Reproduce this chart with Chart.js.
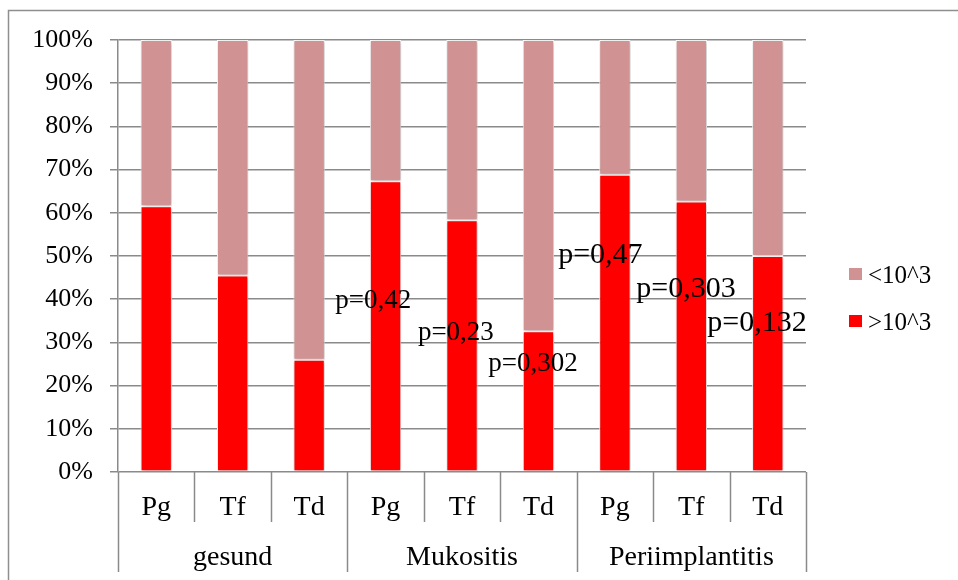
<!DOCTYPE html>
<html>
<head>
<meta charset="utf-8">
<script src="https://cdn.jsdelivr.net/npm/chart.js@4"></script>
<style>
  html, body { margin: 0; padding: 0; background: #fff; }
  #wrap { width: 958px; height: 580px; position: relative; }
</style>
</head>
<body>
<div id="wrap"><canvas id="c" width="958" height="580"></canvas></div>
<script>
// Bacteria and groups
const species = ['Pg', 'Tf', 'Td', 'Pg', 'Tf', 'Td', 'Pg', 'Tf', 'Td'];
const groups = ['gesund', 'Mukositis', 'Periimplantitis'];
const groupSize = 3;

// Share of samples per load class (%)
const overThousand = [61.5, 45.5, 26, 67.3, 58.3, 32.6, 68.8, 62.6, 50];
const underThousand = [38.5, 54.5, 74, 32.7, 41.7, 67.4, 31.2, 37.4, 50];

// p values of the group comparisons
const pTexts = ['p=0,42', 'p=0,23', 'p=0,302', 'p=0,47', 'p=0,303', 'p=0,132'];
// where each p value sits: category position and baseline height (%)
const pAt = [2.84, 3.92, 4.93, 5.81, 6.93, 7.86];
const pBase = [38, 30.6, 23.4, 48.4, 40.5, 32.6];
const pSize = [27, 27, 27, 30, 30, 30];

const yTicks = [0, 10, 20, 30, 40, 50, 60, 70, 80, 90, 100];

const SERIF = '"Liberation Serif", "Times New Roman", serif';
const GRID = '#8a8a8a';
const PINK = '#d09292';
const RED = '#ff0000';

// frame, two-level category axis, p values and legend
const decor = {
  id: 'decor',
  beforeDraw(chart) {
    const ctx = chart.ctx;
    ctx.save();
    ctx.strokeStyle = '#8f8f8f';
    ctx.lineWidth = 1.5;
    ctx.beginPath();
    ctx.moveTo(8.5, 600);
    ctx.lineTo(8.5, 10.5);
    ctx.lineTo(1000, 10.5);
    ctx.stroke();
    ctx.restore();
  },
  beforeDatasetsDraw(chart) {
    chart.ctx.save();
    chart.ctx.shadowColor = 'rgba(0,0,0,0.28)';
    chart.ctx.shadowBlur = 4;
    chart.ctx.shadowOffsetX = 1;
    chart.ctx.shadowOffsetY = 1;
  },
  afterDatasetsDraw(chart) {
    chart.ctx.restore();
    const ctx = chart.ctx;
    const x = chart.scales.x, y = chart.scales.y;
    const area = chart.chartArea;
    const step = (area.right - area.left) / species.length;
    ctx.save();
    // category separators
    ctx.strokeStyle = GRID;
    ctx.lineWidth = 1.5;
    for (let k = 0; k <= species.length; k++) {
      const px = Math.round(area.left + step * k) + 0.5;
      const long = k % groupSize === 0;
      ctx.beginPath();
      ctx.moveTo(px, area.bottom);
      ctx.lineTo(px, area.bottom + (long ? 100 : 50));
      ctx.stroke();
    }
    // category labels
    ctx.fillStyle = '#000';
    ctx.textAlign = 'center';
    ctx.textBaseline = 'alphabetic';
    ctx.font = '28px ' + SERIF;
    species.forEach((s, i) => {
      ctx.fillText(s, x.getPixelForValue(i), area.bottom + 43);
    });
    groups.forEach((g, j) => {
      const cx = (x.getPixelForValue(j * groupSize) + x.getPixelForValue(j * groupSize + groupSize - 1)) / 2;
      ctx.fillText(g, cx, area.bottom + 93);
    });
    // p values
    pTexts.forEach((t, i) => {
      ctx.font = pSize[i] + 'px ' + SERIF;
      ctx.fillText(t, x.getPixelForValue(pAt[i]), y.getPixelForValue(pBase[i]));
    });
    // legend, top series first
    const items = [chart.data.datasets[1], chart.data.datasets[0]];
    ctx.textAlign = 'left';
    ctx.font = '25px ' + SERIF;
    items.forEach((ds, i) => {
      const top = 268 + i * 47;
      ctx.fillStyle = ds.backgroundColor;
      ctx.fillRect(849, top, 13, 12);
      ctx.fillStyle = '#000';
      ctx.fillText(ds.label, 868, top + 15);
    });
    ctx.restore();
  }
};

new Chart(document.getElementById('c'), {
  type: 'bar',
  data: {
    labels: species,
    datasets: [
      { label: '>10^3', data: overThousand, backgroundColor: RED, borderColor: '#fff', borderWidth: 1, borderSkipped: false },
      { label: '<10^3', data: underThousand, backgroundColor: PINK, borderColor: '#fff', borderWidth: 1, borderSkipped: false }
    ]
  },
  options: {
    responsive: false,
    animation: false,
    events: [],
    layout: { padding: { left: 8, right: 152, top: 40, bottom: 108 } },
    datasets: { bar: { categoryPercentage: 1, barPercentage: 0.41 } },
    plugins: { legend: { display: false }, tooltip: { enabled: false } },
    scales: {
      x: { stacked: true, display: false, offset: true },
      y: {
        stacked: true,
        min: 0,
        max: 100,
        afterFit(s) { s.width = 110; },
        afterBuildTicks(s) { s.ticks = yTicks.map(v => ({ value: v })); },
        ticks: {
          callback: v => v + '%',
          color: '#000',
          padding: 17,
          font: { family: SERIF, size: 26 }
        },
        grid: { color: GRID, lineWidth: 1.5, tickLength: 8 },
        border: { color: GRID, width: 1.5 }
      }
    }
  },
  plugins: [decor]
});
</script>
</body>
</html>
